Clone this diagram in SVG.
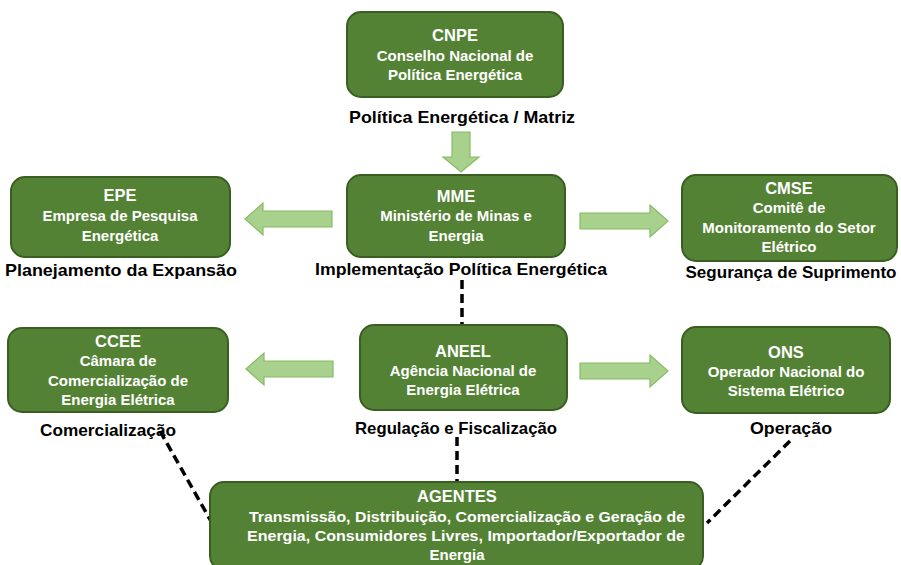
<svg xmlns="http://www.w3.org/2000/svg" width="901" height="565" viewBox="0 0 901 565">
<style>
.box{fill:#548235;stroke:#3A5D22;stroke-width:2}
.t{font-family:"Liberation Sans",Arial,sans-serif;font-weight:bold;fill:#fff;text-anchor:middle}
.h{font-size:16.5px}
.b{font-size:15px}
.lbl{font-family:"Liberation Sans",Arial,sans-serif;font-weight:bold;font-size:16.5px;fill:#000;text-anchor:middle}
.arr{fill:#A9D18E;stroke:#86BC63;stroke-width:1.2}
.dash{stroke:#000;stroke-width:3.5;stroke-dasharray:9 5;fill:none}
</style>
<rect width="901" height="565" fill="#fff"/>
<g id="connectors">
<path class="arr" d="M452,132 L470,132 L470,157 L479,157 L461,172 L443,157 L452,157 Z"/>
<path class="arr" d="M245,219 L263,203 L263,211 L332,211 L332,227 L263,227 L263,235 Z"/>
<path class="arr" d="M580,213 L650,213 L650,205 L668,221 L650,237 L650,229 L580,229 Z"/>
<path class="arr" d="M246,369 L264,353 L264,361 L333,361 L333,377 L264,377 L264,385 Z"/>
<path class="arr" d="M580,363 L650,363 L650,355 L668,371 L650,387 L650,379 L580,379 Z"/>
<line class="dash" x1="462" y1="280" x2="462" y2="326"/>
<line class="dash" x1="457" y1="437" x2="457" y2="482"/>
<line class="dash" x1="160" y1="431" x2="212" y2="523"/>
<line class="dash" x1="790" y1="441" x2="707" y2="523"/>
</g>
<g id="cnpe">
<rect class="box" x="347" y="12" width="216" height="85" rx="14"/>
<text class="t h" x="455" y="41">CNPE</text>
<text class="t b" x="455" y="61">Conselho Nacional de</text>
<text class="t b" x="455" y="80">Política Energética</text>
<text class="lbl" x="462" y="123" textLength="226" lengthAdjust="spacingAndGlyphs">Política Energética / Matriz</text>
</g>
<g id="epe">
<rect class="box" x="11" y="177" width="219" height="80" rx="14"/>
<text class="t h" x="120" y="201">EPE</text>
<text class="t b" x="120" y="221">Empresa de Pesquisa</text>
<text class="t b" x="120" y="241">Energética</text>
<text class="lbl" x="121" y="276" textLength="232" lengthAdjust="spacingAndGlyphs">Planejamento da Expansão</text>
</g>
<g id="mme">
<rect class="box" x="347" y="175" width="218" height="82" rx="14"/>
<text class="t h" x="456" y="202">MME</text>
<text class="t b" x="456" y="221">Ministério de Minas e</text>
<text class="t b" x="456" y="241">Energia</text>
<text class="lbl" x="461" y="275" textLength="292" lengthAdjust="spacingAndGlyphs">Implementação Política Energética</text>
</g>
<g id="cmse">
<rect class="box" x="682" y="175" width="215" height="86" rx="14"/>
<text class="t h" x="789" y="194">CMSE</text>
<text class="t b" x="789" y="213">Comitê de</text>
<text class="t b" x="789" y="233">Monitoramento do Setor</text>
<text class="t b" x="789" y="252">Elétrico</text>
<text class="lbl" x="791" y="278" textLength="211" lengthAdjust="spacingAndGlyphs">Segurança de Suprimento</text>
</g>
<g id="ccee">
<rect class="box" x="8" y="328" width="220" height="84" rx="14"/>
<text class="t h" x="118" y="347">CCEE</text>
<text class="t b" x="118" y="366">Câmara de</text>
<text class="t b" x="118" y="386">Comercialização de</text>
<text class="t b" x="118" y="405">Energia Elétrica</text>
<text class="lbl" x="108" y="436" textLength="136" lengthAdjust="spacingAndGlyphs">Comercialização</text>
</g>
<g id="aneel">
<rect class="box" x="360" y="325" width="207" height="85" rx="14"/>
<text class="t h" x="463" y="357">ANEEL</text>
<text class="t b" x="463" y="376">Agência Nacional de</text>
<text class="t b" x="463" y="395">Energia Elétrica</text>
<text class="lbl" x="456" y="434" textLength="202" lengthAdjust="spacingAndGlyphs">Regulação e Fiscalização</text>
</g>
<g id="ons">
<rect class="box" x="682" y="327" width="208" height="86" rx="14"/>
<text class="t h" x="786" y="358">ONS</text>
<text class="t b" x="786" y="377">Operador Nacional do</text>
<text class="t b" x="786" y="396">Sistema Elétrico</text>
<text class="lbl" x="791" y="434" textLength="82" lengthAdjust="spacingAndGlyphs">Operação</text>
</g>
<g id="agentes">
<rect class="box" x="210" y="482" width="493" height="88" rx="14"/>
<text class="t h" x="457" y="502">AGENTES</text>
<text class="t b" x="467" y="522" textLength="436" lengthAdjust="spacingAndGlyphs">Transmissão, Distribuição, Comercialização e Geração de</text>
<text class="t b" x="466" y="541" textLength="438" lengthAdjust="spacingAndGlyphs">Energia, Consumidores Livres, Importador/Exportador de</text>
<text class="t b" x="457" y="560">Energia</text>
</g>
</svg>
